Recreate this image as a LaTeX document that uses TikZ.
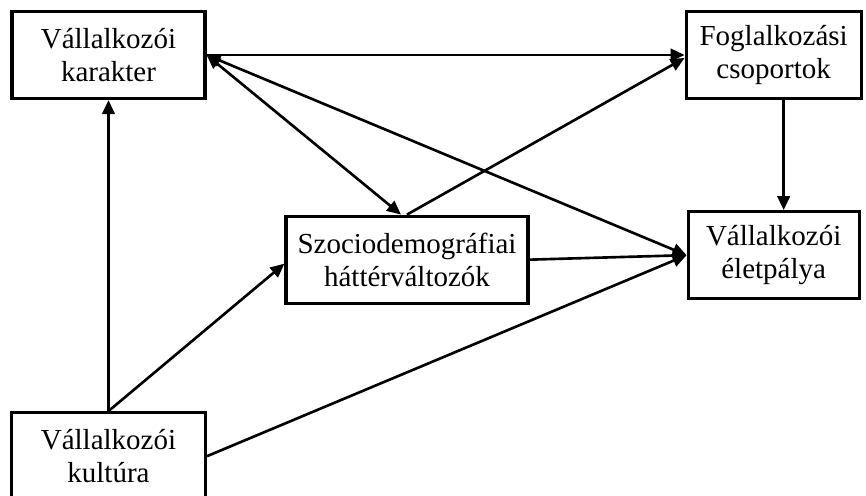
\documentclass[tikz,border=0pt]{standalone}
\usepackage{fontspec}
\setmainfont{Liberation Serif}
\usetikzlibrary{arrows.meta,positioning}
\tikzset{
  box/.style={rectangle, draw=black, line width=1.8pt, fill=white,
              minimum height=1.74cm, align=center, inner sep=2pt,
              font=\fontsize{16.5}{19}\selectfont},
  arrow/.style={-{Triangle[length=2.8mm, width=2.5mm]}, line width=1.5pt, black},
  dblarrow/.style={{Triangle[length=2.8mm, width=2.5mm]}-{Triangle[length=2.8mm, width=2.5mm]}, line width=1.5pt, black},
}
\begin{document}
\begin{tikzpicture}[node distance=2.2cm and 9.56cm]
\clip (0,0) rectangle (17.32,9.9);
\useasboundingbox (0,0) rectangle (17.32,9.9);
\node[box, minimum width=3.86cm] (kar) at (2.17,8.8) {Vállalkozói\\karakter};
\node[box, minimum width=3.5cm, right=of kar] (fogl) {Foglalkozási\\csoportok};
\node[box, minimum width=3.42cm, below=2.2cm of fogl] (eletp) {Vállalkozói\\életpálya};
\node[box, minimum width=4.84cm, left=3.14cm of eletp, yshift=-0.09cm] (szoc) {Szociodemográfiai\\háttérváltozók};
\node[box, minimum width=3.88cm, below=6.22cm of kar] (kult) {Vállalkozói\\kultúra};
% connectors
\draw[arrow] (kult.north) -- (kar.south);
\draw[arrow] (kult.north) -- ([yshift=-0.08cm]szoc.west);
\draw[arrow] (kult.east) -- (eletp.west);
\draw[arrow] (kar.east) -- (fogl.west);
\draw[dblarrow] (kar.east) -- ([xshift=-0.12cm]szoc.north);
\draw[dblarrow] (kar.east) -- (eletp.west);
\draw[arrow] (szoc.north) -- ([yshift=-0.06cm]fogl.west);
\draw[arrow] (szoc.east) -- (eletp.west);
\draw[arrow] ([xshift=0.2cm]fogl.south) -- ([xshift=0.2cm]fogl.south |- eletp.north);
\end{tikzpicture}
\end{document}
